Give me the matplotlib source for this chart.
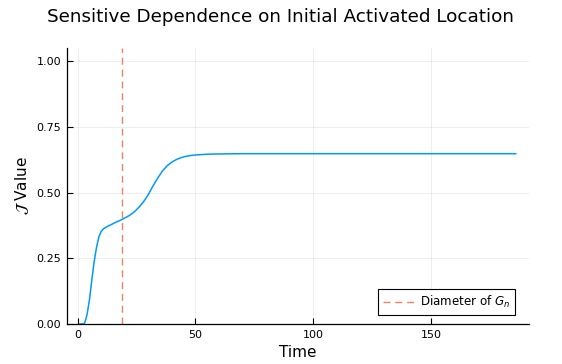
import numpy as np
import matplotlib.pyplot as plt

# J value over time
t = [1, 2, 3, 4, 5, 6, 7, 8, 9, 10, 11, 12, 14, 16, 18, 20, 22, 24, 26, 28, 30,
     32, 34, 36, 38, 40, 42, 44, 46, 48, 50, 55, 60, 70, 186]
j_val = [0.0, 0.0, 0.003, 0.035, 0.09, 0.165, 0.235, 0.29, 0.33, 0.352, 0.362, 0.368,
         0.377, 0.386, 0.394, 0.403, 0.413, 0.426, 0.444, 0.465, 0.492, 0.525, 0.555,
         0.582, 0.602, 0.616, 0.626, 0.633, 0.638, 0.641, 0.643, 0.646, 0.647, 0.648, 0.648]
diameter = 19

fig = plt.figure(figsize=(5.62, 3.64), dpi=100)
ax = fig.add_axes([0.119, 0.110, 0.822, 0.758])

ax.plot(t, j_val, color='#009AFA', lw=1.1)
ax.axvline(diameter, color='#E36F47', lw=1, ls=(0, (5, 3.5)), alpha=0.85,
           label='Diameter of $G_n$')

ax.set_xlim(-4.55, 191.55)
ax.set_ylim(0, 1.05)
ax.set_xticks([0, 50, 100, 150])
ax.set_yticks([0, 0.25, 0.5, 0.75, 1.0])
ax.set_yticklabels(['0.00', '0.25', '0.50', '0.75', '1.00'])
ax.grid(True, color='black', alpha=0.08, lw=0.6)
ax.tick_params(direction='in', length=4, width=0.8, labelsize=8, pad=4)
for s in ['top', 'right']:
    ax.spines[s].set_visible(False)
for s in ['left', 'bottom']:
    ax.spines[s].set_linewidth(0.9)

ax.set_title('Sensitive Dependence on Initial Activated Location', fontsize=13.2, pad=19,
             x=0.463)
ax.set_xlabel('Time', fontsize=11, labelpad=4)
ax.set_ylabel(r'$\mathcal{J}$ Value', fontsize=11)

leg = ax.legend(loc='lower right', bbox_to_anchor=(1 - 14 / 462, 9 / 276), borderaxespad=0,
                fontsize=8.6, fancybox=False, framealpha=1, edgecolor='black',
                handlelength=2.6, handletextpad=0.5)
leg.get_frame().set_linewidth(0.8)

fig.savefig('out.png', dpi=100)
